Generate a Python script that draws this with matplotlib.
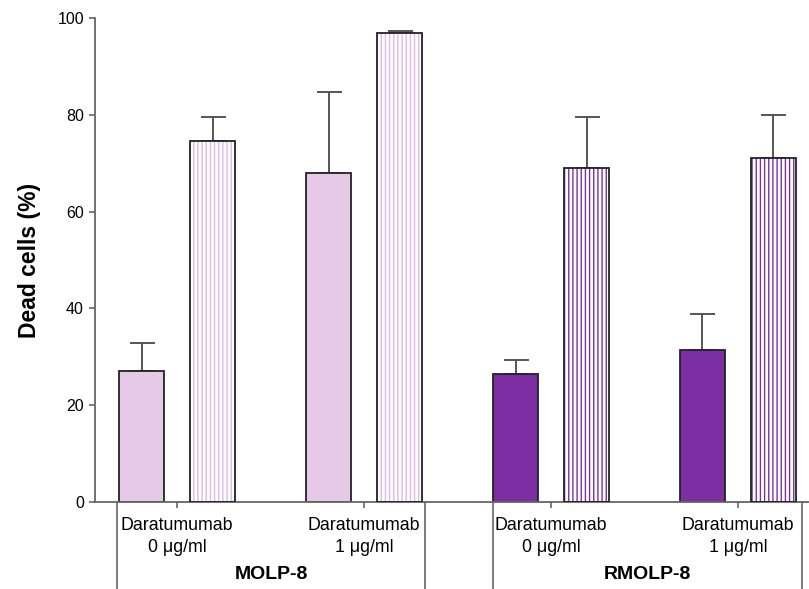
import numpy as np
import matplotlib
matplotlib.use('Agg')
import matplotlib.pyplot as plt
import matplotlib.transforms as mtransforms

plt.rcParams['font.family'] = ['Liberation Sans', 'DejaVu Sans']
plt.rcParams['hatch.linewidth'] = 1.0

# data
conditions = ['Daratumumab\n0 \u03bcg/ml', 'Daratumumab\n1 \u03bcg/ml',
              'Daratumumab\n0 \u03bcg/ml', 'Daratumumab\n1 \u03bcg/ml']
cell_lines = ['MOLP-8', 'RMOLP-8']
solid_vals = [27.1, 68.0, 26.5, 31.5]
solid_err = [5.8, 16.8, 2.8, 7.3]
striped_vals = [74.5, 97.0, 69.0, 71.0]
striped_err = [5.0, 0.3, 10.5, 9.0]
colors = ['#e6c9e6', '#e6c9e6', '#7b2fa2', '#7b2fa2']
stripe_colors = ['#e2b8ea', '#e2b8ea', '#7b2fa2', '#7b2fa2']

fig = plt.figure(figsize=(8.09, 5.89), dpi=100)
ax = fig.add_axes([95 / 809, 87 / 589, 714 / 809, 484 / 589])

x = np.arange(len(conditions))
w = 0.24
off = 0.19

ax.bar(x - off, solid_vals, w, color=colors, edgecolor='#222222', linewidth=1.3, zorder=2)
ax.errorbar(x - off, solid_vals, yerr=[np.zeros(4), solid_err], fmt='none',
            ecolor='#555555', elinewidth=1.4, capsize=9, capthick=1.4, zorder=1)

for i in range(len(x)):
    ax.bar(x[i] + off, striped_vals[i], w, color='white', hatch='||||',
           edgecolor=stripe_colors[i], linewidth=0, zorder=2)
ax.bar(x + off, striped_vals, w, fill=False, edgecolor='#222222', linewidth=1.3, zorder=3)
ax.errorbar(x + off, striped_vals, yerr=[np.zeros(4), striped_err], fmt='none',
            ecolor='#555555', elinewidth=1.4, capsize=9, capthick=1.4, zorder=1)

ax.set_xlim(-0.44, 3.38)
ax.set_ylim(0, 100)
ax.set_yticks(range(0, 101, 20))
ax.set_xticks(x)
ax.set_xticklabels([])
ax.tick_params(axis='both', direction='out', length=4, width=1.2, color='#666666',
               labelsize=11.5, pad=4)
ax.set_ylabel('Dead cells (%)', fontsize=16.5, fontweight='bold', labelpad=12)

for s in ['top', 'right']:
    ax.spines[s].set_visible(False)
for s in ['left', 'bottom']:
    ax.spines[s].set_color('#666666')
    ax.spines[s].set_linewidth(1.3)

trans = mtransforms.blended_transform_factory(ax.transData, ax.transAxes)
for xi, lab in zip(x, conditions):
    ax.text(xi, -0.03, lab, transform=trans, ha='center', va='top',
            fontsize=12.8, linespacing=1.4)

group_edges = [(-0.32, 1.326), (1.69, 3.342)]
for (a, b), name in zip(group_edges, cell_lines):
    for xe in (a, b):
        ax.plot([xe, xe], [0, -0.2], transform=trans, color='#666666', lw=1.2,
                clip_on=False)
    ax.text((a + b) / 2, -0.133, name, transform=trans, ha='center', va='top',
            fontsize=14, fontweight='bold')

fig.savefig('out.png', dpi=100)
